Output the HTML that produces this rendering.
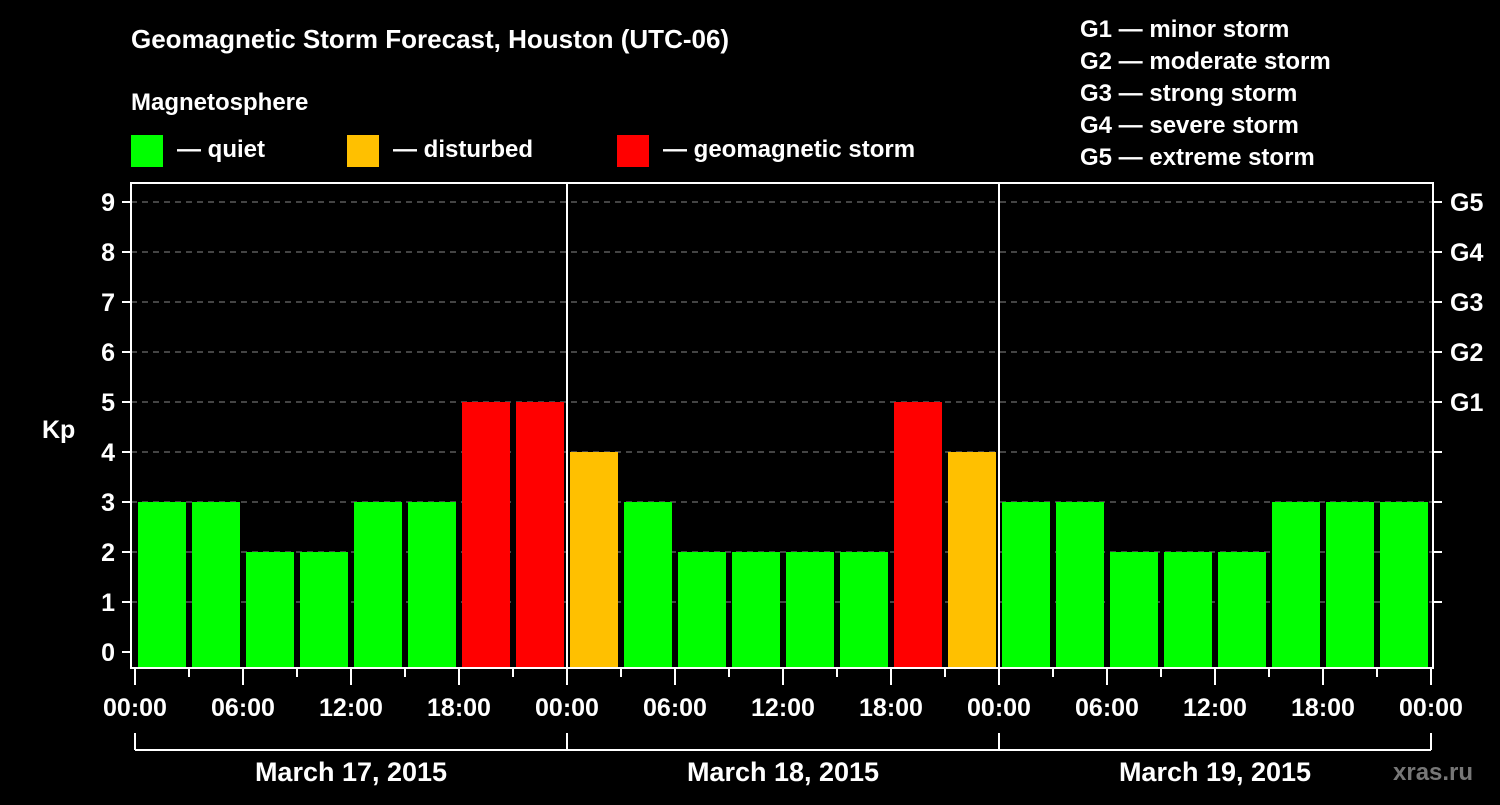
<!DOCTYPE html>
<html><head><meta charset="utf-8"><style>
body{margin:0;background:#000;width:1500px;height:800px;overflow:hidden;font-family:"Liberation Sans",sans-serif;}
svg text{font-family:"Liberation Sans",sans-serif;font-weight:bold;fill:#fff;}
</style></head><body>
<svg id="chart" width="1500" height="800" xmlns="http://www.w3.org/2000/svg">
<text x="131" y="48" font-size="26">Geomagnetic Storm Forecast, Houston (UTC-06)</text>
<text x="131" y="110" font-size="24">Magnetosphere</text>
<g>
<rect x="131" y="135" width="32" height="32" fill="#00ff00"/>
<text x="177" y="157" font-size="24">— quiet</text>
<rect x="347" y="135" width="32" height="32" fill="#ffc000"/>
<text x="393" y="157" font-size="24">— disturbed</text>
<rect x="617" y="135" width="32" height="32" fill="#ff0000"/>
<text x="663" y="157" font-size="24">— geomagnetic storm</text>
</g>
<g font-size="24">
<text x="1080" y="37">G1 — minor storm</text>
<text x="1080" y="69">G2 — moderate storm</text>
<text x="1080" y="101">G3 — strong storm</text>
<text x="1080" y="133">G4 — severe storm</text>
<text x="1080" y="165">G5 — extreme storm</text>
</g>
<g id="grid"></g>
<g id="bars"></g>
<g id="axes"></g>
<text x="1393" y="780" font-size="24" style="fill:#777">xras.ru</text>
</svg>
<script>
const kpValues=[3,3,2,2,3,3,5,5, 4,3,2,2,2,2,5,4, 3,3,2,2,2,3,3,3];
const dayLabels=["March 17, 2015","March 18, 2015","March 19, 2015"];
const hourLabels=["00:00","06:00","12:00","18:00"];
const gLabels=["G1","G2","G3","G4","G5"];
const NS="http://www.w3.org/2000/svg";
const x0=135,dayW=432,slot=54,plotL=131,plotR=1433,plotT=183,plotB=668;
const yScale=v=>652-50*v;
const xScale=i=>x0+slot*i;
function mk(p,tag,a){const e=document.createElementNS(NS,tag);for(const k in a)e.setAttribute(k,a[k]);p.appendChild(e);return e;}
const grid=document.getElementById('grid'),bars=document.getElementById('bars'),axes=document.getElementById('axes');
for(let v=1;v<=9;v++){const l=mk(grid,'line',{x1:plotL,x2:plotR,y1:yScale(v),y2:yScale(v),stroke:'#888','stroke-width':1,'stroke-dasharray':'6,5'});

}
kpValues.forEach((v,i)=>{const c=v>=5?'#ff0000':(v>=4?'#ffc000':'#00ff00');
const r=mk(bars,'rect',{x:xScale(i)+3,y:yScale(v),width:48,height:plotB-yScale(v),fill:c});

});
const fr=mk(axes,'rect',{x:plotL,y:plotT,width:plotR-plotL,height:plotB-plotT,fill:'none',stroke:'#fff','stroke-width':2});


for(let d=1;d<3;d++){const l=mk(axes,'line',{x1:x0+dayW*d,x2:x0+dayW*d,y1:plotT,y2:plotB,stroke:'#fff','stroke-width':2});

}
for(let v=0;v<=9;v++){const y=yScale(v);
mk(axes,'line',{x1:122,x2:plotL,y1:y,y2:y,stroke:'#fff','stroke-width':2});
const t=mk(axes,'text',{x:115,y:y+9,'text-anchor':'end','font-size':25});t.textContent=v;


if(v>=1)mk(axes,'line',{x1:plotR,x2:1442,y1:y,y2:y,stroke:'#fff','stroke-width':2});
if(v>=5){const g=mk(axes,'text',{x:1450,y:y+9,'font-size':25});g.textContent=gLabels[v-5];

}}
const kp=mk(axes,'text',{x:42,y:438,'font-size':25});kp.textContent='Kp';


for(let i=0;i<=24;i++){const x=xScale(i),maj=i%2==0;
mk(axes,'line',{x1:x,x2:x,y1:plotB,y2:maj?685:677,stroke:'#fff','stroke-width':2});
if(maj){const t=mk(axes,'text',{x:x,y:716,'text-anchor':'middle','font-size':25});t.textContent=hourLabels[(i/2)%4];

}}
mk(axes,'line',{x1:x0,x2:x0+dayW*3,y1:750,y2:750,stroke:'#fff','stroke-width':2});
for(let d=0;d<=3;d++)mk(axes,'line',{x1:x0+dayW*d,x2:x0+dayW*d,y1:733,y2:750,stroke:'#fff','stroke-width':2});
dayLabels.forEach((s,d)=>{const t=mk(axes,'text',{x:x0+dayW*d+dayW/2,y:781,'text-anchor':'middle','font-size':27});t.textContent=s;

});
</script>
</body></html>
